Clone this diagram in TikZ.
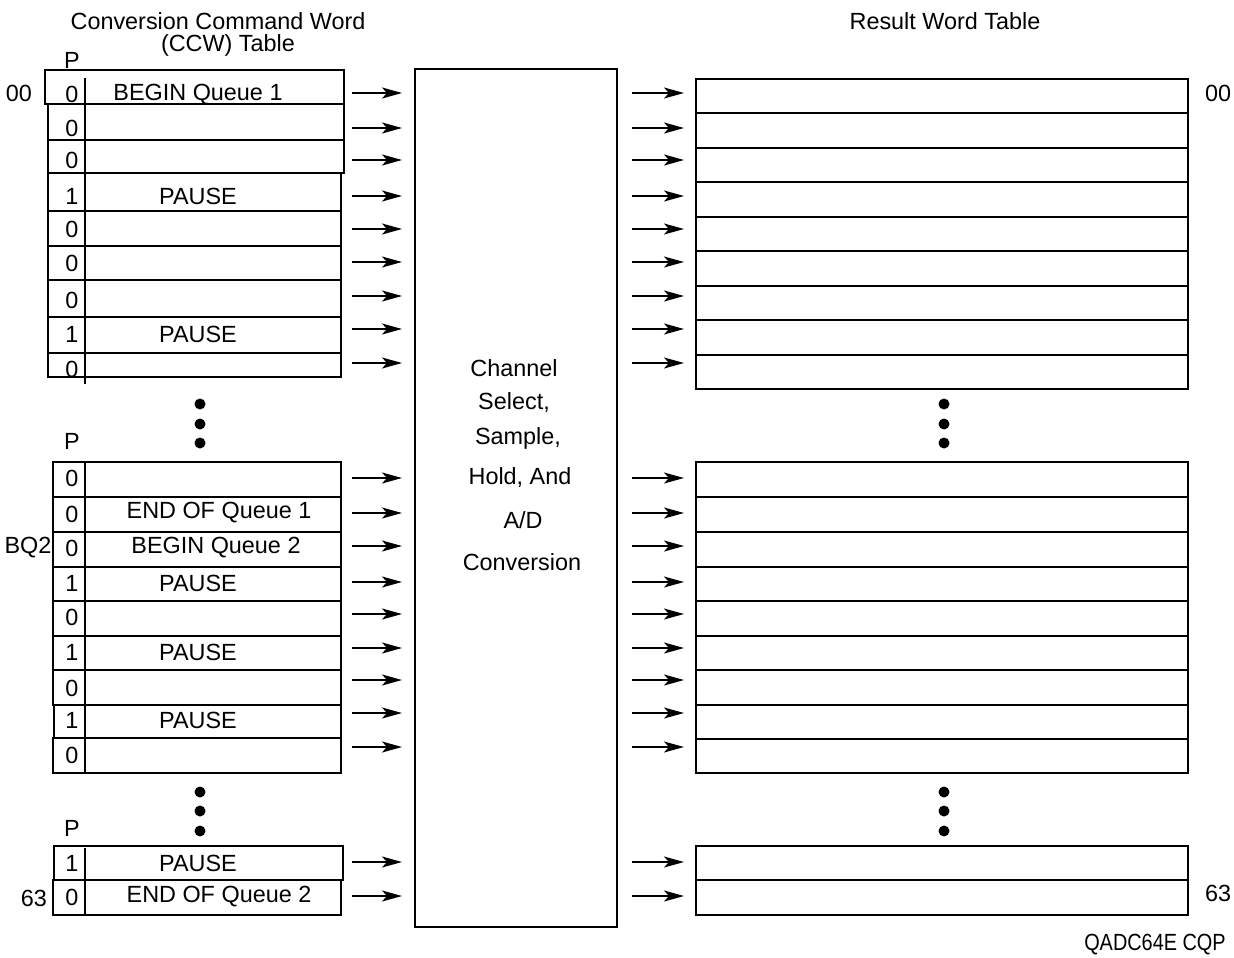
\documentclass[tikz,border=0pt]{standalone}
\usepackage{fontspec}
\setmainfont{Liberation Sans}
\usetikzlibrary{arrows.meta}
\begin{document}
\begin{tikzpicture}[x=1pt,y=-1pt,
  lbl/.style={inner sep=0pt,font=\fontsize{23.4}{26}\selectfont},
  cellbox/.style={draw,line width=1.8pt},
  divider/.style={line width=1.8pt},
  arr/.style={line width=1.6pt,-{Stealth[length=20pt,width=11pt,inset=5pt]}},
  dot/.style={circle,fill=black,inner sep=0pt,minimum size=11pt},
  convbox/.style={draw,line width=2.8pt,inner sep=0pt}]
\useasboundingbox (0,0) rectangle (1234,958);

% titles
\node[lbl] (t1) at (218,21) {Conversion Command Word};
\node[lbl] (t2) at (228,45) {(CCW) Table};
\node[lbl] (t3) at (945,21) {Result Word Table};
\node[lbl] (fig) at (1155,945) {\scalebox{0.85}[1]{QADC64E CQP}};
\node[lbl] (p1) at (72,60) {P};
\node[lbl] (p2) at (72,441) {P};
\node[lbl] (p3) at (72,828) {P};
\node[lbl] (a00) at (19,93) {00};
\node[lbl] (abq) at (28,548) {BQ2};
\node[lbl] (a63) at (34,898) {63};
\node[lbl] (r00) at (1218,93) {00};
\node[lbl] (r63) at (1218,893) {63};

% central box
\node[convbox,minimum width=202pt,minimum height=858pt] (conv) at (516,498) {};
\node[lbl] (c1) at (514,368) {Channel};
\node[lbl] (c2) at (514,403) {Select,};
\node[lbl] (c3) at (518,438) {Sample,};
\node[lbl] (c4) at (520,478) {Hold, And};
\node[lbl] (c5) at (523,520) {A/D};
\node[lbl] (c6) at (522,562) {Conversion};

% left CCW table cells
\foreach \xa/\ya/\xb/\yb in {45/70/344/104, 48/104/344/140, 48/140/344/173,
  48/173/341/211, 48/211/341/246, 48/246/341/280, 48/280/341/317,
  48/317/341/353, 48/353/341/377,
  53/462/341/497, 53/497/341/532, 53/532/341/567, 53/567/341/601,
  53/601/341/636, 53/636/341/670, 53/670/341/705, 54/705/341/738,
  53/738/341/773, 54/846/343/880, 53/880/341/915}
  \draw[cellbox] (\xa,\ya) rectangle (\xb,\yb);
\draw[divider] (85,78) -- (85,384);
\draw[divider] (85,462) -- (85,773);
\draw[divider] (85,848) -- (85,915);

% digits
\foreach \i/\d/\y in {1/0/94, 2/0/128, 3/0/160, 4/1/196, 5/0/229, 6/0/263,
  7/0/300, 8/1/334, 9/0/369, 10/0/478, 11/0/514, 12/0/548, 13/1/583,
  14/0/617, 15/1/652, 16/0/688, 17/1/720, 18/0/755, 19/1/863, 20/0/897}
  \node[lbl] (d\i) at (72,\y) {\d};

% cell texts
\node[lbl] (q1) at (198,95) {BEGIN Queue 1};
\node[lbl] (q2) at (198,196) {PAUSE};
\node[lbl] (q3) at (198,334) {PAUSE};
\node[lbl] (q4) at (219,513) {END OF Queue 1};
\node[lbl] (q5) at (216,548) {BEGIN Queue 2};
\node[lbl] (q6) at (198,583) {PAUSE};
\node[lbl] (q7) at (198,652) {PAUSE};
\node[lbl] (q8) at (198,720) {PAUSE};
\node[lbl] (q9) at (198,863) {PAUSE};
\node[lbl] (q10) at (219,897) {END OF Queue 2};

% result word table
\draw[cellbox] (696,79) rectangle (1188,389);
\foreach \y in {113,148,182,217,251,286,320,355}
  \draw[cellbox] (696,\y) -- (1188,\y);
\draw[cellbox] (696,462) rectangle (1188,773);
\foreach \y in {497,532,567,601,636,670,705,739}
  \draw[cellbox] (696,\y) -- (1188,\y);
\draw[cellbox] (696,846) rectangle (1188,915);
\draw[cellbox] (696,880) -- (1188,880);

% arrows
\foreach \y in {93,128,160,196,229,262,296,329,363,
  478,513,546,582,614,648,680,713,747,862,896} {
  \coordinate (ls\y) at (352,\y);
  \coordinate (le\y) at (402,\y);
  \coordinate (rs\y) at (632,\y);
  \coordinate (re\y) at (684,\y);
  \draw[arr] (ls\y) -- (le\y);
  \draw[arr] (rs\y) -- (re\y);
}

% ellipsis dots
\foreach \x/\n in {200/l,944/r}
  \foreach \y/\m in {404/a,424/b,443/c,792/d,811/e,831/f}
    \node[dot] (dot\n\m) at (\x,\y) {};
\end{tikzpicture}
\end{document}
